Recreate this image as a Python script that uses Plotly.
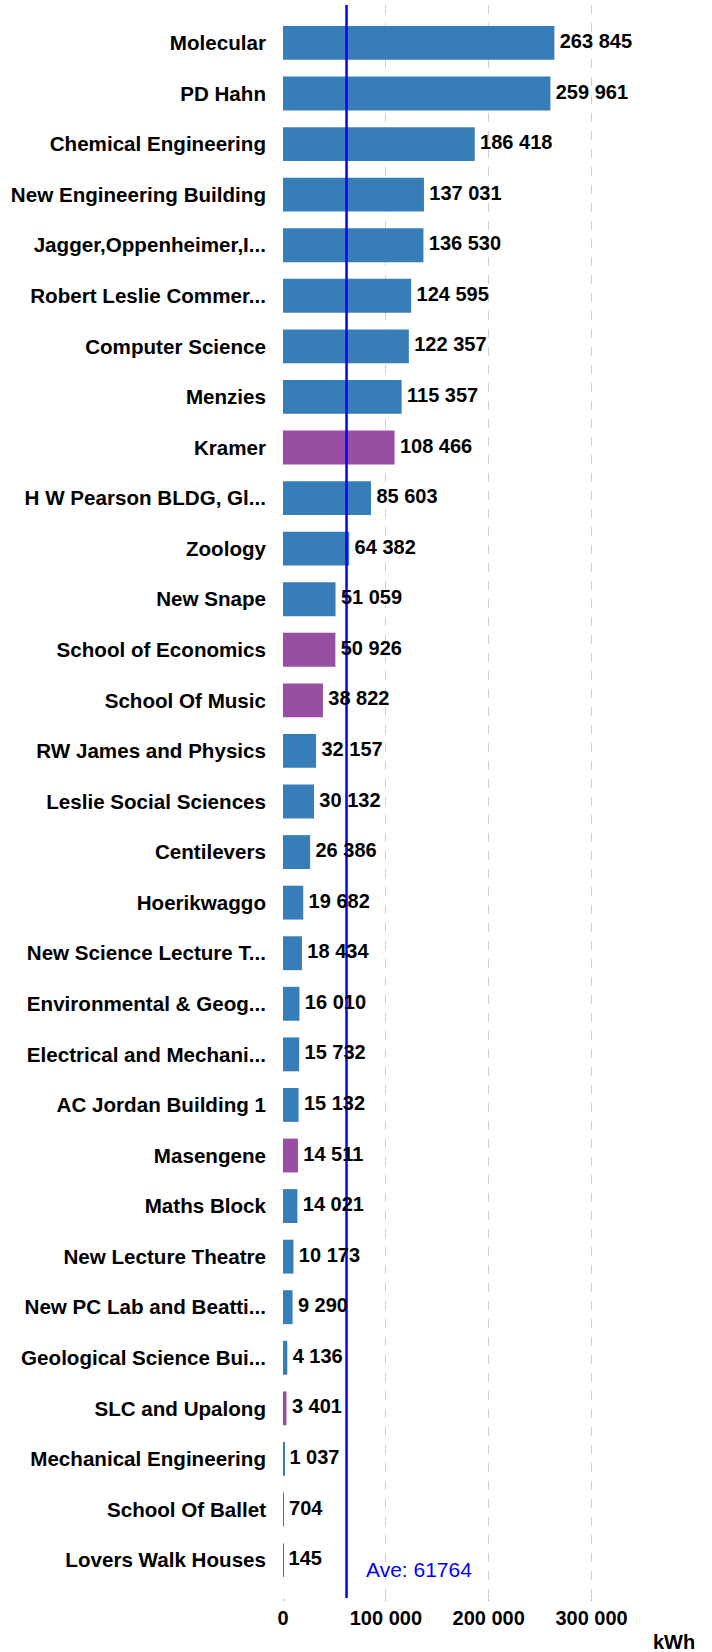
import plotly.graph_objects as go

# buildings, kWh, and group (A = academic, R = residence)
buildings = [
    "Molecular", "PD Hahn", "Chemical Engineering", "New Engineering Building",
    "Jagger,Oppenheimer,I...", "Robert Leslie Commer...", "Computer Science",
    "Menzies", "Kramer", "H W Pearson BLDG, Gl...", "Zoology", "New Snape",
    "School of Economics", "School Of Music", "RW James and Physics",
    "Leslie Social Sciences", "Centilevers", "Hoerikwaggo",
    "New Science Lecture T...", "Environmental & Geog...",
    "Electrical and Mechani...", "AC Jordan Building 1", "Masengene",
    "Maths Block", "New Lecture Theatre", "New PC Lab and Beatti...",
    "Geological Science Bui...", "SLC and Upalong", "Mechanical Engineering",
    "School Of Ballet", "Lovers Walk Houses",
]
kwh = [
    263845, 259961, 186418, 137031, 136530, 124595, 122357, 115357, 108466,
    85603, 64382, 51059, 50926, 38822, 32157, 30132, 26386, 19682, 18434,
    16010, 15732, 15132, 14511, 14021, 10173, 9290, 4136, 3401, 1037, 704, 145,
]
group = [
    "A", "A", "A", "A", "A", "A", "A", "A", "R", "A", "A", "A", "R", "R", "A",
    "A", "A", "A", "A", "A", "A", "A", "R", "A", "A", "A", "A", "R", "A", "R", "R",
]
average = 61764

group_colors = {"A": "#377EB8", "R": "#984EA3"}
FONT = "Arial, Liberation Sans, sans-serif"
n = len(buildings)
yrange = [n - 1 + 0.75, -0.75]

fig = go.Figure()

fig.add_trace(go.Bar(
    x=kwh, y=buildings, orientation="h",
    marker=dict(color=[group_colors[g] for g in group], line=dict(width=0)),
    hoverinfo="x+y",
))

# average line (own hidden axis so it sits above the bars)
fig.add_trace(go.Scatter(
    x=[average, average], y=[0, 1], yaxis="y2", mode="lines",
    line=dict(color="#0000FF", width=2.5), hoverinfo="skip",
))

# value labels above everything; invisible markers give the text a small gap
fig.add_trace(go.Scatter(
    x=kwh, y=buildings, yaxis="y3", mode="markers+text",
    marker=dict(size=7, color="rgba(0,0,0,0)"),
    text=[f"{v:,}".replace(",", " ") for v in kwh],
    textposition="middle right",
    textfont=dict(family=FONT, size=20, color="black", weight="bold"),
    hoverinfo="skip", cliponaxis=False,
))

fig.update_layout(
    width=712, height=1652,
    margin=dict(l=283, r=69, t=5, b=54),
    plot_bgcolor="white", paper_bgcolor="white",
    showlegend=False, bargap=0.33,
    separators=". ",
    xaxis=dict(
        range=[0, 350000], tickvals=[0, 100000, 200000, 300000],
        tickformat=",d", showgrid=True, gridcolor="#cfcfcf", griddash="dash",
        gridwidth=1, zeroline=False, showline=False, automargin=False,
        ticks="outside", ticklen=2, tickcolor="#f5a050",
        tickfont=dict(family=FONT, size=20, color="black", weight="bold"),
        fixedrange=True,
    ),
    yaxis=dict(
        categoryorder="array", categoryarray=buildings, range=yrange,
        showgrid=False, zeroline=False, showline=False, automargin=False,
        ticks="", ticklabelstandoff=16,
        tickfont=dict(family=FONT, size=20.6, color="black", weight="bold"),
    ),
    yaxis2=dict(overlaying="y", range=[0, 1], visible=False),
    yaxis3=dict(
        overlaying="y", categoryorder="array", categoryarray=buildings,
        range=yrange, visible=False,
    ),
    annotations=[
        dict(text="Ave: 61764", x=average, xref="x", xshift=17, xanchor="left",
             y=0.0182, yref="paper", yanchor="middle", showarrow=False,
             font=dict(family=FONT, size=21, color="#0000FF")),
        dict(text="kWh", x=1.0855, xref="paper", xanchor="center",
             y=-0.0276, yref="paper", yanchor="middle", showarrow=False,
             font=dict(family=FONT, size=20, color="black", weight="bold")),
    ],
)

fig.write_html("out.html", config={"displayModeBar": False},
               post_script="document.body.style.margin='0';")
